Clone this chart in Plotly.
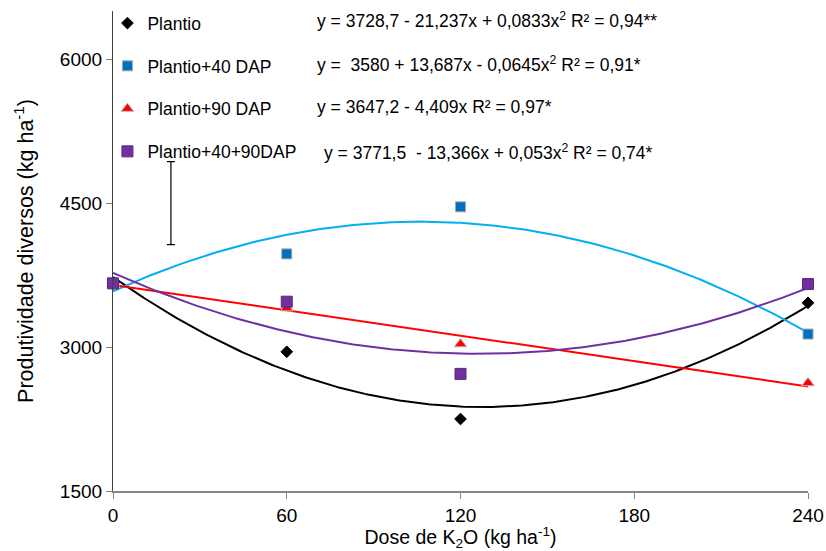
import numpy as np
import plotly.graph_objects as go

doses = [0, 60, 120, 240]
series_names = ["Plantio", "Plantio+40 DAP", "Plantio+90 DAP", "Plantio+40+90DAP"]
plantio = [3660, 2950, 2250, 3460]
plantio_40 = [3660, 3970, 4460, 3135]
plantio_90 = [3660, 3405, 3030, 2625]
plantio_40_90 = [3663, 3472, 2720, 3656]
# regression coefficients (c0, c1, c2) as printed on the chart
coef_plantio = [3728.7, -21.237, 0.0833]
coef_40 = [3580, 13.687, -0.0645]
coef_90 = [3647.2, -4.409, 0.0]
coef_40_90 = [3771.5, -13.366, 0.053]
equations = [
    "y = 3728,7 - 21,237x + 0,0833x<sup>2</sup> R² = 0,94**",
    "y =  3580 + 13,687x - 0,0645x<sup>2</sup> R² = 0,91*",
    "y = 3647,2 - 4,409x R² = 0,97*",
    "y = 3771,5  - 13,366x + 0,053x<sup>2</sup> R² = 0,74*",
]
err_x = [20]
err_y = [4498]
err_half = [432]

FONT = "Liberation Sans, Arial, sans-serif"
values = [plantio, plantio_40, plantio_90, plantio_40_90]
coefs = [coef_plantio, coef_40, coef_90, coef_40_90]
line_colors = ["#000000", "#00B0F0", "#FF0000", "#7030A0"]
marker_colors = ["#000000", "#0070C0", "#FF0000", "#7030A0"]
marker_symbols = ["diamond", "square", "triangle-up", "square"]
marker_sizes = [9, 10, 11, 11]
marker_lines = ["#000000", "#A6A6A6", "#BFBFBF", "#5A2880"]

xs = np.linspace(0, 240, 241)
fig = go.Figure()

for i in range(4):
    c = coefs[i]
    fig.add_trace(go.Scatter(
        x=xs, y=c[0] + c[1] * xs + c[2] * xs ** 2, mode="lines",
        line=dict(color=line_colors[i], width=2), showlegend=False,
        hoverinfo="skip"))

for i in range(4):
    fig.add_trace(go.Scatter(
        x=doses, y=values[i], mode="markers", name=series_names[i],
        legendgroup=str(i), cliponaxis=False,
        marker=dict(symbol=marker_symbols[i], size=marker_sizes[i],
                    color=marker_colors[i],
                    line=dict(color=marker_lines[i], width=1))))

fig.add_trace(go.Scatter(
    x=err_x, y=err_y, mode="markers", marker=dict(size=1, color="rgba(0,0,0,0)"),
    error_y=dict(type="data", array=err_half, color="#000000", thickness=1.2, width=4),
    showlegend=False, hoverinfo="skip"))

eq_y = [6406, 5948, 5500, 5031]
eq_x = [69.8, 69.8, 69.8, 72.2]
for t, xx, yy in zip(equations, eq_x, eq_y):
    fig.add_annotation(x=xx, y=yy, xref="x", yref="y", text=t, showarrow=False,
                       xanchor="left", yanchor="middle",
                       font=dict(family=FONT, size=17.5, color="#000000"))

fig.update_layout(
    width=826, height=551,
    margin=dict(l=113, r=18, t=11, b=60, autoexpand=False),
    paper_bgcolor="white", plot_bgcolor="white",
    font=dict(family=FONT, color="#000000"),
    legend=dict(x=-0.008, y=1.012, xanchor="left", yanchor="top",
                font=dict(family=FONT, size=17.5), tracegroupgap=17,
                traceorder="grouped", itemwidth=30, bgcolor="rgba(0,0,0,0)"),
    xaxis=dict(range=[0, 240], tickvals=[0, 60, 120, 180, 240],
               showline=True, linecolor="#868686", linewidth=1.5,
               ticks="outside", ticklen=6, tickcolor="#868686",
               showgrid=False, zeroline=False, automargin=False,
               tickfont=dict(family=FONT, size=19),
               title=dict(text="Dose de K<sub>2</sub>O (kg ha<sup>-1</sup>)",
                          font=dict(family=FONT, size=19.5), standoff=4)),
    yaxis=dict(range=[1500, 6500], tickvals=[1500, 3000, 4500, 6000],
               showline=True, linecolor="#404040", linewidth=1.2,
               ticks="outside", ticklen=6, tickcolor="#868686",
               showgrid=False, zeroline=False, automargin=False,
               tickfont=dict(family=FONT, size=19),
               title=dict(text="Produtividade diversos (kg ha<sup>-1</sup>)",
                          font=dict(family=FONT, size=21.5), standoff=20)),
)

fig.write_html("out.html")
